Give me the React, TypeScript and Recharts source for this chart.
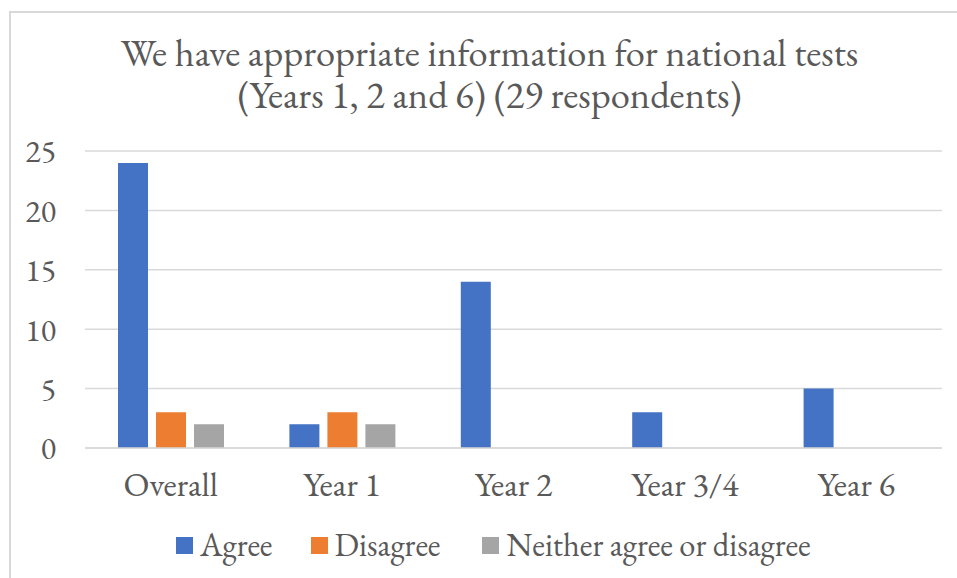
import React from "react";
import { BarChart, Bar, XAxis, YAxis, CartesianGrid, Legend } from "recharts";

const categories = ["Overall", "Year 1", "Year 2", "Year 3/4", "Year 6"];
const agree = [24, 2, 14, 3, 5];
const disagree = [3, 3, 0, 0, 0];
const neither = [2, 2, 0, 0, 0];
const yTicks = [0, 5, 10, 15, 20, 25];
const seriesNames = ["Agree", "Disagree", "Neither agree or disagree"];
const seriesColors = ["#4472C4", "#ED7D31", "#A5A5A5"];
const titleLines = [
  "We have appropriate information for national tests",
  "(Years 1, 2 and 6) (29 respondents)",
];

const data = categories.map((c, i) => ({
  name: c,
  agree: agree[i],
  disagree: disagree[i],
  neither: neither[i],
}));

const FONT = "'EB Garamond', 'Liberation Serif', serif";
const TEXT = "#595959";
const NUM = { fontVariantNumeric: "lining-nums", fontFeatureSettings: '"lnum"' } as any;

const LegendContent = (props: any) => {
  const payload = props.payload || [];
  return (
    <div
      style={{
        display: "flex",
        alignItems: "center",
        fontFamily: FONT,
        fontSize: 32.5,
        color: TEXT,
        paddingLeft: 176,
        height: 30,
        ...NUM,
      }}
    >
      {payload.map((p: any, i: number) => (
        <div key={i} style={{ display: "flex", alignItems: "center", marginRight: i === 1 ? 42 : 38 }}>
          <div style={{ width: 17, height: 17, background: p.color, marginRight: 7 }} />
          <span style={{ lineHeight: "30px" }}>{p.value}</span>
        </div>
      ))}
    </div>
  );
};

export default function App() {
  return (
    <div style={{ position: "absolute", left: 0, top: 0, width: 957, height: 578, background: "#fff", overflow: "hidden" }}>
      <div
        style={{
          position: "absolute",
          left: 9,
          top: 11,
          width: 960,
          height: 600,
          border: "2px solid #d9d9d9",
          boxSizing: "border-box",
        }}
      />
      <svg
        width={957}
        height={130}
        style={{ position: "absolute", left: 0, top: 0, display: "block" }}
      >
        <text
          textAnchor="middle"
          fontFamily={FONT}
          fontSize={38.5}
          fill={TEXT}
          style={NUM}
        >
          {titleLines.map((t, i) => (
            <tspan key={i} x={489.5} y={66 + i * 42}>
              {t}
            </tspan>
          ))}
        </text>
      </svg>
      <div style={{ position: "absolute", left: 0, top: 0 }}>
        <BarChart
          width={957}
          height={578}
          data={data}
          margin={{ top: 151, right: 15, bottom: 0, left: 0 }}
          barCategoryGap={33}
          barGap={8}
        >
          <CartesianGrid vertical={false} stroke="#d9d9d9" strokeWidth={1.5} />
          <XAxis
            dataKey="name"
            axisLine={{ stroke: "#d9d9d9", strokeWidth: 1.5 }}
            tickLine={false}
            tickSize={0}
            tickMargin={24}
            height={82}
            tick={{ fontFamily: FONT, fontSize: 34, fill: TEXT, style: NUM }}
            interval={0}
          />
          <YAxis
            domain={[0, 25]}
            ticks={yTicks}
            axisLine={false}
            tickLine={false}
            tickSize={0}
            tickMargin={29}
            width={85}
            tick={{ fontFamily: FONT, fontSize: 32, fill: TEXT, style: NUM }}
          />
          <Legend
            verticalAlign="bottom"
            align="left"
            height={48}
            content={<LegendContent />}
          />
          <Bar dataKey="agree" name={seriesNames[0]} fill={seriesColors[0]} isAnimationActive={false} />
          <Bar dataKey="disagree" name={seriesNames[1]} fill={seriesColors[1]} isAnimationActive={false} />
          <Bar dataKey="neither" name={seriesNames[2]} fill={seriesColors[2]} isAnimationActive={false} />
        </BarChart>
      </div>
    </div>
  );
}
